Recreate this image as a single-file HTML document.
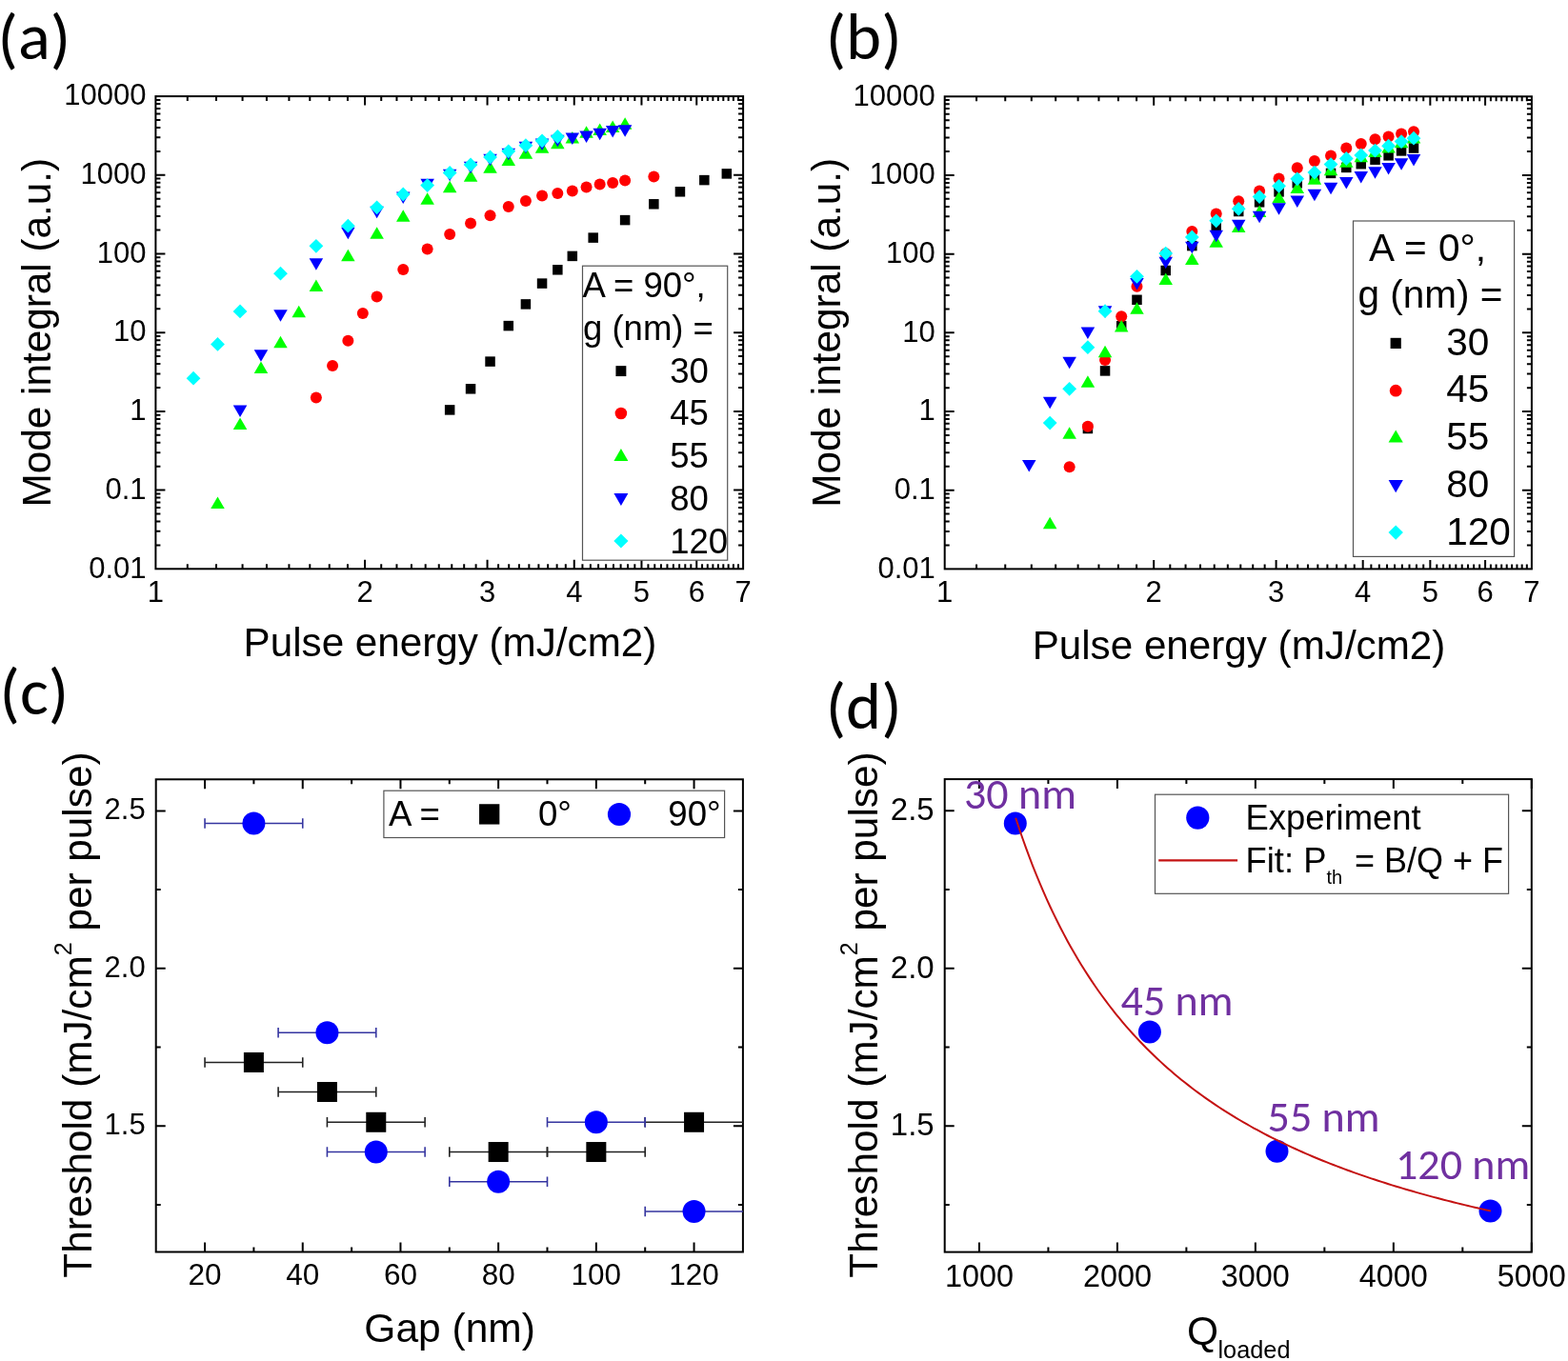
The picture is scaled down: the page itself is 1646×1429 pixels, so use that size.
<!DOCTYPE html>
<html><head><meta charset="utf-8"><title>Figure</title>
<style>html,body{margin:0;padding:0;background:#fff;}svg{display:block;}</style>
</head><body>
<svg width="1646" height="1429" viewBox="0 0 1646 1429">
<rect width="1646" height="1429" fill="#fff"/>
<text x="-2.4" y="64.1" font-family='Carlito, Calibri, "Liberation Sans", sans-serif' font-size="70.6" text-anchor="start" fill="#000">(<tspan dy="-2">a</tspan><tspan dy="2">)</tspan></text>
<text x="866.7" y="64.1" font-family='Carlito, Calibri, "Liberation Sans", sans-serif' font-size="70.6" text-anchor="start" fill="#000">(<tspan dy="-2">b</tspan><tspan dy="2">)</tspan></text>
<text x="-0.5" y="751.1" font-family='Carlito, Calibri, "Liberation Sans", sans-serif' font-size="70.6" text-anchor="start" fill="#000">(<tspan dy="-1">c</tspan><tspan dy="1">)</tspan></text>
<text x="866.7" y="766.3" font-family='Carlito, Calibri, "Liberation Sans", sans-serif' font-size="70.6" text-anchor="start" fill="#000">(<tspan dy="-1">d</tspan><tspan dy="1">)</tspan></text>
<rect x="163.4" y="101.1" width="616.7" height="496.2" fill="none" stroke="#000" stroke-width="2.0"/>
<path d="M383.07 597.3v-9.5M383.07 101.1v9.5M511.57 597.3v-9.5M511.57 101.1v9.5M602.75 597.3v-9.5M602.75 101.1v9.5M673.46 597.3v-9.5M673.46 101.1v9.5M731.25 597.3v-9.5M731.25 101.1v9.5" stroke="#000" stroke-width="2.0" fill="none"/>
<path d="M196.79 597.3v-5M196.79 101.1v5M227 597.3v-5M227 101.1v5M254.57 597.3v-5M254.57 101.1v5M279.94 597.3v-5M279.94 101.1v5M303.43 597.3v-5M303.43 101.1v5M325.29 597.3v-5M325.29 101.1v5M345.75 597.3v-5M345.75 101.1v5M364.96 597.3v-5M364.96 101.1v5M400.21 597.3v-5M400.21 101.1v5M416.46 597.3v-5M416.46 101.1v5M431.93 597.3v-5M431.93 101.1v5M446.67 597.3v-5M446.67 101.1v5M460.76 597.3v-5M460.76 101.1v5M474.25 597.3v-5M474.25 101.1v5M487.18 597.3v-5M487.18 101.1v5M499.61 597.3v-5M499.61 101.1v5M523.1 597.3v-5M523.1 101.1v5M534.22 597.3v-5M534.22 101.1v5M544.96 597.3v-5M544.96 101.1v5M555.36 597.3v-5M555.36 101.1v5M565.42 597.3v-5M565.42 101.1v5M575.17 597.3v-5M575.17 101.1v5M584.63 597.3v-5M584.63 101.1v5M593.82 597.3v-5M593.82 101.1v5M611.43 597.3v-5M611.43 101.1v5M619.88 597.3v-5M619.88 101.1v5M628.11 597.3v-5M628.11 101.1v5M636.14 597.3v-5M636.14 101.1v5M643.96 597.3v-5M643.96 101.1v5M651.6 597.3v-5M651.6 101.1v5M659.06 597.3v-5M659.06 101.1v5M666.34 597.3v-5M666.34 101.1v5M680.43 597.3v-5M680.43 101.1v5M687.25 597.3v-5M687.25 101.1v5M693.92 597.3v-5M693.92 101.1v5M700.45 597.3v-5M700.45 101.1v5M706.86 597.3v-5M706.86 101.1v5M713.13 597.3v-5M713.13 101.1v5M719.29 597.3v-5M719.29 101.1v5M725.32 597.3v-5M725.32 101.1v5M737.06 597.3v-5M737.06 101.1v5M742.77 597.3v-5M742.77 101.1v5M748.38 597.3v-5M748.38 101.1v5M753.89 597.3v-5M753.89 101.1v5M759.31 597.3v-5M759.31 101.1v5M764.64 597.3v-5M764.64 101.1v5M769.88 597.3v-5M769.88 101.1v5M775.03 597.3v-5M775.03 101.1v5" stroke="#000" stroke-width="2.0" fill="none"/>
<path d="M163.4 514.6h10M780.1 514.6h-10M163.4 431.9h10M780.1 431.9h-10M163.4 349.2h10M780.1 349.2h-10M163.4 266.5h10M780.1 266.5h-10M163.4 183.8h10M780.1 183.8h-10" stroke="#000" stroke-width="2.0" fill="none"/>
<path d="M163.4 572.4h5M780.1 572.4h-5M163.4 557.84h5M780.1 557.84h-5M163.4 547.51h5M780.1 547.51h-5M163.4 539.5h5M780.1 539.5h-5M163.4 532.95h5M780.1 532.95h-5M163.4 527.41h5M780.1 527.41h-5M163.4 522.61h5M780.1 522.61h-5M163.4 518.38h5M780.1 518.38h-5M163.4 489.7h5M780.1 489.7h-5M163.4 475.14h5M780.1 475.14h-5M163.4 464.81h5M780.1 464.81h-5M163.4 456.8h5M780.1 456.8h-5M163.4 450.25h5M780.1 450.25h-5M163.4 444.71h5M780.1 444.71h-5M163.4 439.91h5M780.1 439.91h-5M163.4 435.68h5M780.1 435.68h-5M163.4 407h5M780.1 407h-5M163.4 392.44h5M780.1 392.44h-5M163.4 382.11h5M780.1 382.11h-5M163.4 374.1h5M780.1 374.1h-5M163.4 367.55h5M780.1 367.55h-5M163.4 362.01h5M780.1 362.01h-5M163.4 357.21h5M780.1 357.21h-5M163.4 352.98h5M780.1 352.98h-5M163.4 324.3h5M780.1 324.3h-5M163.4 309.74h5M780.1 309.74h-5M163.4 299.41h5M780.1 299.41h-5M163.4 291.4h5M780.1 291.4h-5M163.4 284.85h5M780.1 284.85h-5M163.4 279.31h5M780.1 279.31h-5M163.4 274.51h5M780.1 274.51h-5M163.4 270.28h5M780.1 270.28h-5M163.4 241.6h5M780.1 241.6h-5M163.4 227.04h5M780.1 227.04h-5M163.4 216.71h5M780.1 216.71h-5M163.4 208.7h5M780.1 208.7h-5M163.4 202.15h5M780.1 202.15h-5M163.4 196.61h5M780.1 196.61h-5M163.4 191.81h5M780.1 191.81h-5M163.4 187.58h5M780.1 187.58h-5M163.4 158.9h5M780.1 158.9h-5M163.4 144.34h5M780.1 144.34h-5M163.4 134.01h5M780.1 134.01h-5M163.4 126h5M780.1 126h-5M163.4 119.45h5M780.1 119.45h-5M163.4 113.91h5M780.1 113.91h-5M163.4 109.11h5M780.1 109.11h-5M163.4 104.88h5M780.1 104.88h-5" stroke="#000" stroke-width="2.0" fill="none"/>
<text x="153.5" y="606.5" font-family='"Liberation Sans", Arial, sans-serif' font-size="31" text-anchor="end" fill="#000">0.01</text>
<text x="153.5" y="523.8" font-family='"Liberation Sans", Arial, sans-serif' font-size="31" text-anchor="end" fill="#000">0.1</text>
<text x="153.5" y="441.1" font-family='"Liberation Sans", Arial, sans-serif' font-size="31" text-anchor="end" fill="#000">1</text>
<text x="153.5" y="358.4" font-family='"Liberation Sans", Arial, sans-serif' font-size="31" text-anchor="end" fill="#000">10</text>
<text x="153.5" y="275.7" font-family='"Liberation Sans", Arial, sans-serif' font-size="31" text-anchor="end" fill="#000">100</text>
<text x="153.5" y="193" font-family='"Liberation Sans", Arial, sans-serif' font-size="31" text-anchor="end" fill="#000">1000</text>
<text x="153.5" y="110.3" font-family='"Liberation Sans", Arial, sans-serif' font-size="31" text-anchor="end" fill="#000">10000</text>
<text x="163.4" y="631.9" font-family='"Liberation Sans", Arial, sans-serif' font-size="31" text-anchor="middle" fill="#000">1</text>
<text x="383.07" y="631.9" font-family='"Liberation Sans", Arial, sans-serif' font-size="31" text-anchor="middle" fill="#000">2</text>
<text x="511.57" y="631.9" font-family='"Liberation Sans", Arial, sans-serif' font-size="31" text-anchor="middle" fill="#000">3</text>
<text x="602.75" y="631.9" font-family='"Liberation Sans", Arial, sans-serif' font-size="31" text-anchor="middle" fill="#000">4</text>
<text x="673.46" y="631.9" font-family='"Liberation Sans", Arial, sans-serif' font-size="31" text-anchor="middle" fill="#000">5</text>
<text x="731.25" y="631.9" font-family='"Liberation Sans", Arial, sans-serif' font-size="31" text-anchor="middle" fill="#000">6</text>
<text x="780.1" y="631.9" font-family='"Liberation Sans", Arial, sans-serif' font-size="31" text-anchor="middle" fill="#000">7</text>
<text x="472.45" y="689" font-family='"Liberation Sans", Arial, sans-serif' font-size="42.2" text-anchor="middle" fill="#000">Pulse energy (mJ/cm2)</text>
<text transform="translate(53.3 349.2) rotate(-90)" font-family='"Liberation Sans", Arial, sans-serif' font-size="42.3" text-anchor="middle">Mode integral (a.u.)</text>
<rect x="466.91" y="425.15" width="10.5" height="10.5" fill="#000"/><rect x="488.81" y="403.05" width="10.5" height="10.5" fill="#000"/><rect x="509.29" y="374.35" width="10.5" height="10.5" fill="#000"/><rect x="528.53" y="336.85" width="10.5" height="10.5" fill="#000"/><rect x="546.66" y="314.15" width="10.5" height="10.5" fill="#000"/><rect x="563.81" y="292.35" width="10.5" height="10.5" fill="#000"/><rect x="580.09" y="278.05" width="10.5" height="10.5" fill="#000"/><rect x="595.56" y="263.65" width="10.5" height="10.5" fill="#000"/><rect x="617.45" y="244.35" width="10.5" height="10.5" fill="#000"/><rect x="650.87" y="225.85" width="10.5" height="10.5" fill="#000"/><rect x="681.1" y="209.05" width="10.5" height="10.5" fill="#000"/><rect x="708.69" y="196.05" width="10.5" height="10.5" fill="#000"/><rect x="734.08" y="183.85" width="10.5" height="10.5" fill="#000"/><rect x="757.58" y="177.15" width="10.5" height="10.5" fill="#000"/><circle cx="331.88" cy="417.5" r="6" fill="#f00"/><circle cx="349.06" cy="384" r="6" fill="#f00"/><circle cx="365.35" cy="357.8" r="6" fill="#f00"/><circle cx="380.84" cy="329" r="6" fill="#f00"/><circle cx="395.61" cy="311.5" r="6" fill="#f00"/><circle cx="423.23" cy="282.9" r="6" fill="#f00"/><circle cx="448.64" cy="261.6" r="6" fill="#f00"/><circle cx="472.16" cy="246" r="6" fill="#f00"/><circle cx="494.06" cy="234.4" r="6" fill="#f00"/><circle cx="514.54" cy="226.2" r="6" fill="#f00"/><circle cx="533.78" cy="216.9" r="6" fill="#f00"/><circle cx="551.91" cy="211.1" r="6" fill="#f00"/><circle cx="569.06" cy="205.6" r="6" fill="#f00"/><circle cx="585.34" cy="203" r="6" fill="#f00"/><circle cx="600.81" cy="200.4" r="6" fill="#f00"/><circle cx="615.57" cy="196.4" r="6" fill="#f00"/><circle cx="629.67" cy="193.6" r="6" fill="#f00"/><circle cx="643.17" cy="191.9" r="6" fill="#f00"/><circle cx="656.12" cy="189.4" r="6" fill="#f00"/><circle cx="686.35" cy="185.6" r="6" fill="#f00"/><path d="M221.23 534.05L235.73 534.05L228.48 521.55Z" fill="#0f0"/><path d="M244.78 450.95L259.28 450.95L252.03 438.45Z" fill="#0f0"/><path d="M266.71 391.95L281.21 391.95L273.96 379.45Z" fill="#0f0"/><path d="M287.22 365.15L301.72 365.15L294.47 352.65Z" fill="#0f0"/><path d="M306.48 333.15L320.98 333.15L313.73 320.65Z" fill="#0f0"/><path d="M324.63 305.95L339.13 305.95L331.88 293.45Z" fill="#0f0"/><path d="M358.1 274.35L372.6 274.35L365.35 261.85Z" fill="#0f0"/><path d="M388.36 250.75L402.86 250.75L395.61 238.25Z" fill="#0f0"/><path d="M415.98 232.65L430.48 232.65L423.23 220.15Z" fill="#0f0"/><path d="M441.39 214.85L455.89 214.85L448.64 202.35Z" fill="#0f0"/><path d="M464.91 202.25L479.41 202.25L472.16 189.75Z" fill="#0f0"/><path d="M486.81 190.85L501.31 190.85L494.06 178.35Z" fill="#0f0"/><path d="M507.29 181.75L521.79 181.75L514.54 169.25Z" fill="#0f0"/><path d="M526.53 174.05L541.03 174.05L533.78 161.55Z" fill="#0f0"/><path d="M544.66 166.85L559.16 166.85L551.91 154.35Z" fill="#0f0"/><path d="M561.81 160.85L576.31 160.85L569.06 148.35Z" fill="#0f0"/><path d="M578.09 156.35L592.59 156.35L585.34 143.85Z" fill="#0f0"/><path d="M593.56 150.45L608.06 150.45L600.81 137.95Z" fill="#0f0"/><path d="M608.32 144.85L622.82 144.85L615.57 132.35Z" fill="#0f0"/><path d="M622.42 142.05L636.92 142.05L629.67 129.55Z" fill="#0f0"/><path d="M635.92 138.95L650.42 138.95L643.17 126.45Z" fill="#0f0"/><path d="M648.87 135.75L663.37 135.75L656.12 123.25Z" fill="#0f0"/><path d="M244.78 425.55L259.28 425.55L252.03 438.05Z" fill="#00f"/><path d="M266.71 367.25L281.21 367.25L273.96 379.75Z" fill="#00f"/><path d="M287.22 325.25L301.72 325.25L294.47 337.75Z" fill="#00f"/><path d="M324.63 271.35L339.13 271.35L331.88 283.85Z" fill="#00f"/><path d="M358.1 238.65L372.6 238.65L365.35 251.15Z" fill="#00f"/><path d="M388.36 216.85L402.86 216.85L395.61 229.35Z" fill="#00f"/><path d="M415.98 201.45L430.48 201.45L423.23 213.95Z" fill="#00f"/><path d="M441.39 187.85L455.89 187.85L448.64 200.35Z" fill="#00f"/><path d="M464.91 177.65L479.41 177.65L472.16 190.15Z" fill="#00f"/><path d="M486.81 169.65L501.31 169.65L494.06 182.15Z" fill="#00f"/><path d="M507.29 161.65L521.79 161.65L514.54 174.15Z" fill="#00f"/><path d="M526.53 155.85L541.03 155.85L533.78 168.35Z" fill="#00f"/><path d="M544.66 148.65L559.16 148.65L551.91 161.15Z" fill="#00f"/><path d="M561.81 145.45L576.31 145.45L569.06 157.95Z" fill="#00f"/><path d="M578.09 141.85L592.59 141.85L585.34 154.35Z" fill="#00f"/><path d="M593.56 139.55L608.06 139.55L600.81 152.05Z" fill="#00f"/><path d="M608.32 137.45L622.82 137.45L615.57 149.95Z" fill="#00f"/><path d="M622.42 134.85L636.92 134.85L629.67 147.35Z" fill="#00f"/><path d="M635.92 132.05L650.42 132.05L643.17 144.55Z" fill="#00f"/><path d="M648.87 131.35L663.37 131.35L656.12 143.85Z" fill="#00f"/><path d="M203.03 389.8L210.43 397.2L203.03 404.6L195.63 397.2Z" fill="#0ff"/><path d="M228.48 354L235.88 361.4L228.48 368.8L221.08 361.4Z" fill="#0ff"/><path d="M252.03 319.5L259.43 326.9L252.03 334.3L244.63 326.9Z" fill="#0ff"/><path d="M294.47 279.8L301.87 287.2L294.47 294.6L287.07 287.2Z" fill="#0ff"/><path d="M331.88 250.9L339.28 258.3L331.88 265.7L324.48 258.3Z" fill="#0ff"/><path d="M365.35 229.8L372.75 237.2L365.35 244.6L357.95 237.2Z" fill="#0ff"/><path d="M395.61 210.4L403.01 217.8L395.61 225.2L388.21 217.8Z" fill="#0ff"/><path d="M423.23 196.6L430.63 204L423.23 211.4L415.83 204Z" fill="#0ff"/><path d="M448.64 187.2L456.04 194.6L448.64 202L441.24 194.6Z" fill="#0ff"/><path d="M472.16 174L479.56 181.4L472.16 188.8L464.76 181.4Z" fill="#0ff"/><path d="M494.06 165.6L501.46 173L494.06 180.4L486.66 173Z" fill="#0ff"/><path d="M514.54 157.6L521.94 165L514.54 172.4L507.14 165Z" fill="#0ff"/><path d="M533.78 151.4L541.18 158.8L533.78 166.2L526.38 158.8Z" fill="#0ff"/><path d="M551.91 145.3L559.31 152.7L551.91 160.1L544.51 152.7Z" fill="#0ff"/><path d="M569.06 140.4L576.46 147.8L569.06 155.2L561.66 147.8Z" fill="#0ff"/><path d="M585.34 136.1L592.74 143.5L585.34 150.9L577.94 143.5Z" fill="#0ff"/>
<rect x="611.5" y="279.2" width="152.2" height="309" fill="#fff" stroke="#555" stroke-width="1.2"/>
<text x="611.5" y="312.3" font-family='"Liberation Sans", Arial, sans-serif' font-size="36.5" text-anchor="start" fill="#000">A = 90°,</text>
<text x="612" y="357" font-family='"Liberation Sans", Arial, sans-serif' font-size="36.5" text-anchor="start" fill="#000">g (nm) =</text>
<text x="703.2" y="401.7" font-family='"Liberation Sans", Arial, sans-serif' font-size="36.5" text-anchor="start" fill="#000">30</text>
<text x="703.2" y="446.4" font-family='"Liberation Sans", Arial, sans-serif' font-size="36.5" text-anchor="start" fill="#000">45</text>
<text x="703.2" y="491.1" font-family='"Liberation Sans", Arial, sans-serif' font-size="36.5" text-anchor="start" fill="#000">55</text>
<text x="703.2" y="535.8" font-family='"Liberation Sans", Arial, sans-serif' font-size="36.5" text-anchor="start" fill="#000">80</text>
<text x="703.2" y="580.5" font-family='"Liberation Sans", Arial, sans-serif' font-size="36.5" text-anchor="start" fill="#000">120</text>
<rect x="646.45" y="384.15" width="10.9" height="10.9" fill="#000"/><circle cx="651.9" cy="434" r="6.3" fill="#f00"/><path d="M644.4 483.9L659.4 483.9L651.9 470.9Z" fill="#0f0"/><path d="M644.4 518L659.4 518L651.9 531Z" fill="#00f"/><path d="M651.9 560.4L659.5 568L651.9 575.6L644.3 568Z" fill="#0ff"/>
<rect x="991.7" y="101.3" width="616.2" height="496.1" fill="none" stroke="#000" stroke-width="2.0"/>
<path d="M1211.19 597.4v-9.5M1211.19 101.3v9.5M1339.59 597.4v-9.5M1339.59 101.3v9.5M1430.69 597.4v-9.5M1430.69 101.3v9.5M1501.35 597.4v-9.5M1501.35 101.3v9.5M1559.09 597.4v-9.5M1559.09 101.3v9.5" stroke="#000" stroke-width="2.0" fill="none"/>
<path d="M1025.06 597.4v-5M1025.06 101.3v5M1055.25 597.4v-5M1055.25 101.3v5M1082.8 597.4v-5M1082.8 101.3v5M1108.15 597.4v-5M1108.15 101.3v5M1131.61 597.4v-5M1131.61 101.3v5M1153.46 597.4v-5M1153.46 101.3v5M1173.9 597.4v-5M1173.9 101.3v5M1193.09 597.4v-5M1193.09 101.3v5M1228.32 597.4v-5M1228.32 101.3v5M1244.56 597.4v-5M1244.56 101.3v5M1260.01 597.4v-5M1260.01 101.3v5M1274.74 597.4v-5M1274.74 101.3v5M1288.82 597.4v-5M1288.82 101.3v5M1302.29 597.4v-5M1302.29 101.3v5M1315.22 597.4v-5M1315.22 101.3v5M1327.64 597.4v-5M1327.64 101.3v5M1351.11 597.4v-5M1351.11 101.3v5M1362.22 597.4v-5M1362.22 101.3v5M1372.96 597.4v-5M1372.96 101.3v5M1383.34 597.4v-5M1383.34 101.3v5M1393.39 597.4v-5M1393.39 101.3v5M1403.14 597.4v-5M1403.14 101.3v5M1412.59 597.4v-5M1412.59 101.3v5M1421.77 597.4v-5M1421.77 101.3v5M1439.37 597.4v-5M1439.37 101.3v5M1447.81 597.4v-5M1447.81 101.3v5M1456.04 597.4v-5M1456.04 101.3v5M1464.05 597.4v-5M1464.05 101.3v5M1471.87 597.4v-5M1471.87 101.3v5M1479.5 597.4v-5M1479.5 101.3v5M1486.95 597.4v-5M1486.95 101.3v5M1494.23 597.4v-5M1494.23 101.3v5M1508.31 597.4v-5M1508.31 101.3v5M1515.12 597.4v-5M1515.12 101.3v5M1521.79 597.4v-5M1521.79 101.3v5M1528.32 597.4v-5M1528.32 101.3v5M1534.72 597.4v-5M1534.72 101.3v5M1540.99 597.4v-5M1540.99 101.3v5M1547.13 597.4v-5M1547.13 101.3v5M1553.17 597.4v-5M1553.17 101.3v5M1564.9 597.4v-5M1564.9 101.3v5M1570.6 597.4v-5M1570.6 101.3v5M1576.21 597.4v-5M1576.21 101.3v5M1581.71 597.4v-5M1581.71 101.3v5M1587.13 597.4v-5M1587.13 101.3v5M1592.45 597.4v-5M1592.45 101.3v5M1597.68 597.4v-5M1597.68 101.3v5M1602.83 597.4v-5M1602.83 101.3v5" stroke="#000" stroke-width="2.0" fill="none"/>
<path d="M991.7 514.72h10M1607.9 514.72h-10M991.7 432.03h10M1607.9 432.03h-10M991.7 349.35h10M1607.9 349.35h-10M991.7 266.67h10M1607.9 266.67h-10M991.7 183.98h10M1607.9 183.98h-10" stroke="#000" stroke-width="2.0" fill="none"/>
<path d="M991.7 572.51h5M1607.9 572.51h-5M991.7 557.95h5M1607.9 557.95h-5M991.7 547.62h5M1607.9 547.62h-5M991.7 539.61h5M1607.9 539.61h-5M991.7 533.06h5M1607.9 533.06h-5M991.7 527.52h5M1607.9 527.52h-5M991.7 522.73h5M1607.9 522.73h-5M991.7 518.5h5M1607.9 518.5h-5M991.7 489.83h5M1607.9 489.83h-5M991.7 475.27h5M1607.9 475.27h-5M991.7 464.94h5M1607.9 464.94h-5M991.7 456.92h5M1607.9 456.92h-5M991.7 450.38h5M1607.9 450.38h-5M991.7 444.84h5M1607.9 444.84h-5M991.7 440.05h5M1607.9 440.05h-5M991.7 435.82h5M1607.9 435.82h-5M991.7 407.14h5M1607.9 407.14h-5M991.7 392.58h5M1607.9 392.58h-5M991.7 382.25h5M1607.9 382.25h-5M991.7 374.24h5M1607.9 374.24h-5M991.7 367.69h5M1607.9 367.69h-5M991.7 362.16h5M1607.9 362.16h-5M991.7 357.36h5M1607.9 357.36h-5M991.7 353.13h5M1607.9 353.13h-5M991.7 324.46h5M1607.9 324.46h-5M991.7 309.9h5M1607.9 309.9h-5M991.7 299.57h5M1607.9 299.57h-5M991.7 291.56h5M1607.9 291.56h-5M991.7 285.01h5M1607.9 285.01h-5M991.7 279.47h5M1607.9 279.47h-5M991.7 274.68h5M1607.9 274.68h-5M991.7 270.45h5M1607.9 270.45h-5M991.7 241.78h5M1607.9 241.78h-5M991.7 227.22h5M1607.9 227.22h-5M991.7 216.89h5M1607.9 216.89h-5M991.7 208.87h5M1607.9 208.87h-5M991.7 202.33h5M1607.9 202.33h-5M991.7 196.79h5M1607.9 196.79h-5M991.7 192h5M1607.9 192h-5M991.7 187.77h5M1607.9 187.77h-5M991.7 159.09h5M1607.9 159.09h-5M991.7 144.53h5M1607.9 144.53h-5M991.7 134.2h5M1607.9 134.2h-5M991.7 126.19h5M1607.9 126.19h-5M991.7 119.64h5M1607.9 119.64h-5M991.7 114.11h5M1607.9 114.11h-5M991.7 109.31h5M1607.9 109.31h-5M991.7 105.08h5M1607.9 105.08h-5" stroke="#000" stroke-width="2.0" fill="none"/>
<text x="981.8" y="606.6" font-family='"Liberation Sans", Arial, sans-serif' font-size="31" text-anchor="end" fill="#000">0.01</text>
<text x="981.8" y="523.92" font-family='"Liberation Sans", Arial, sans-serif' font-size="31" text-anchor="end" fill="#000">0.1</text>
<text x="981.8" y="441.23" font-family='"Liberation Sans", Arial, sans-serif' font-size="31" text-anchor="end" fill="#000">1</text>
<text x="981.8" y="358.55" font-family='"Liberation Sans", Arial, sans-serif' font-size="31" text-anchor="end" fill="#000">10</text>
<text x="981.8" y="275.87" font-family='"Liberation Sans", Arial, sans-serif' font-size="31" text-anchor="end" fill="#000">100</text>
<text x="981.8" y="193.18" font-family='"Liberation Sans", Arial, sans-serif' font-size="31" text-anchor="end" fill="#000">1000</text>
<text x="981.8" y="110.5" font-family='"Liberation Sans", Arial, sans-serif' font-size="31" text-anchor="end" fill="#000">10000</text>
<text x="991.7" y="632" font-family='"Liberation Sans", Arial, sans-serif' font-size="31" text-anchor="middle" fill="#000">1</text>
<text x="1211.19" y="632" font-family='"Liberation Sans", Arial, sans-serif' font-size="31" text-anchor="middle" fill="#000">2</text>
<text x="1339.59" y="632" font-family='"Liberation Sans", Arial, sans-serif' font-size="31" text-anchor="middle" fill="#000">3</text>
<text x="1430.69" y="632" font-family='"Liberation Sans", Arial, sans-serif' font-size="31" text-anchor="middle" fill="#000">4</text>
<text x="1501.35" y="632" font-family='"Liberation Sans", Arial, sans-serif' font-size="31" text-anchor="middle" fill="#000">5</text>
<text x="1559.09" y="632" font-family='"Liberation Sans", Arial, sans-serif' font-size="31" text-anchor="middle" fill="#000">6</text>
<text x="1607.9" y="632" font-family='"Liberation Sans", Arial, sans-serif' font-size="31" text-anchor="middle" fill="#000">7</text>
<text x="1300.5" y="691.9" font-family='"Liberation Sans", Arial, sans-serif' font-size="42.2" text-anchor="middle" fill="#000">Pulse energy (mJ/cm2)</text>
<text transform="translate(881.6 349.35) rotate(-90)" font-family='"Liberation Sans", Arial, sans-serif' font-size="42.3" text-anchor="middle">Mode integral (a.u.)</text>
<rect x="1136.66" y="444.75" width="10.5" height="10.5" fill="#000"/><rect x="1154.8" y="384.15" width="10.5" height="10.5" fill="#000"/><rect x="1171.96" y="337.05" width="10.5" height="10.5" fill="#000"/><rect x="1188.23" y="309.55" width="10.5" height="10.5" fill="#000"/><rect x="1218.47" y="278.75" width="10.5" height="10.5" fill="#000"/><rect x="1246.07" y="252.85" width="10.5" height="10.5" fill="#000"/><rect x="1271.46" y="231.85" width="10.5" height="10.5" fill="#000"/><rect x="1294.96" y="216.75" width="10.5" height="10.5" fill="#000"/><rect x="1316.84" y="207.05" width="10.5" height="10.5" fill="#000"/><rect x="1337.3" y="196.15" width="10.5" height="10.5" fill="#000"/><rect x="1356.52" y="187.05" width="10.5" height="10.5" fill="#000"/><rect x="1374.65" y="181.75" width="10.5" height="10.5" fill="#000"/><rect x="1391.79" y="176.65" width="10.5" height="10.5" fill="#000"/><rect x="1408.04" y="170.65" width="10.5" height="10.5" fill="#000"/><rect x="1423.51" y="166.95" width="10.5" height="10.5" fill="#000"/><rect x="1438.26" y="162.45" width="10.5" height="10.5" fill="#000"/><rect x="1452.34" y="158.05" width="10.5" height="10.5" fill="#000"/><rect x="1465.83" y="153.15" width="10.5" height="10.5" fill="#000"/><rect x="1478.77" y="150.25" width="10.5" height="10.5" fill="#000"/><circle cx="1122.66" cy="490.2" r="6" fill="#f00"/><circle cx="1141.91" cy="447.8" r="6" fill="#f00"/><circle cx="1160.05" cy="377.9" r="6" fill="#f00"/><circle cx="1177.21" cy="332.3" r="6" fill="#f00"/><circle cx="1193.48" cy="300.8" r="6" fill="#f00"/><circle cx="1223.72" cy="266.2" r="6" fill="#f00"/><circle cx="1251.32" cy="243.1" r="6" fill="#f00"/><circle cx="1276.71" cy="224.6" r="6" fill="#f00"/><circle cx="1300.21" cy="211.2" r="6" fill="#f00"/><circle cx="1322.09" cy="200.5" r="6" fill="#f00"/><circle cx="1342.55" cy="187.5" r="6" fill="#f00"/><circle cx="1361.77" cy="176.2" r="6" fill="#f00"/><circle cx="1379.9" cy="168.9" r="6" fill="#f00"/><circle cx="1397.04" cy="163.5" r="6" fill="#f00"/><circle cx="1413.29" cy="155.6" r="6" fill="#f00"/><circle cx="1428.76" cy="151.1" r="6" fill="#f00"/><circle cx="1443.51" cy="146.3" r="6" fill="#f00"/><circle cx="1457.59" cy="143.4" r="6" fill="#f00"/><circle cx="1471.08" cy="140.5" r="6" fill="#f00"/><circle cx="1484.02" cy="138.2" r="6" fill="#f00"/><path d="M1094.92 555.15L1109.42 555.15L1102.17 542.65Z" fill="#0f0"/><path d="M1115.41 460.85L1129.91 460.85L1122.66 448.35Z" fill="#0f0"/><path d="M1134.66 406.85L1149.16 406.85L1141.91 394.35Z" fill="#0f0"/><path d="M1152.8 375.15L1167.3 375.15L1160.05 362.65Z" fill="#0f0"/><path d="M1169.96 348.55L1184.46 348.55L1177.21 336.05Z" fill="#0f0"/><path d="M1186.23 329.65L1200.73 329.65L1193.48 317.15Z" fill="#0f0"/><path d="M1216.47 298.95L1230.97 298.95L1223.72 286.45Z" fill="#0f0"/><path d="M1244.07 277.95L1258.57 277.95L1251.32 265.45Z" fill="#0f0"/><path d="M1269.46 259.75L1283.96 259.75L1276.71 247.25Z" fill="#0f0"/><path d="M1292.96 244.05L1307.46 244.05L1300.21 231.55Z" fill="#0f0"/><path d="M1314.84 227.95L1329.34 227.95L1322.09 215.45Z" fill="#0f0"/><path d="M1335.3 213.35L1349.8 213.35L1342.55 200.85Z" fill="#0f0"/><path d="M1354.52 203.05L1369.02 203.05L1361.77 190.55Z" fill="#0f0"/><path d="M1372.65 193.85L1387.15 193.85L1379.9 181.35Z" fill="#0f0"/><path d="M1389.79 184.15L1404.29 184.15L1397.04 171.65Z" fill="#0f0"/><path d="M1406.04 175.65L1420.54 175.65L1413.29 163.15Z" fill="#0f0"/><path d="M1421.51 170.25L1436.01 170.25L1428.76 157.75Z" fill="#0f0"/><path d="M1436.26 165.05L1450.76 165.05L1443.51 152.55Z" fill="#0f0"/><path d="M1450.34 160.45L1464.84 160.45L1457.59 147.95Z" fill="#0f0"/><path d="M1463.83 155.35L1478.33 155.35L1471.08 142.85Z" fill="#0f0"/><path d="M1476.77 150.45L1491.27 150.45L1484.02 137.95Z" fill="#0f0"/><path d="M1073.01 483.05L1087.51 483.05L1080.26 495.55Z" fill="#00f"/><path d="M1094.92 416.75L1109.42 416.75L1102.17 429.25Z" fill="#00f"/><path d="M1115.41 374.75L1129.91 374.75L1122.66 387.25Z" fill="#00f"/><path d="M1134.66 343.55L1149.16 343.55L1141.91 356.05Z" fill="#00f"/><path d="M1152.8 321.35L1167.3 321.35L1160.05 333.85Z" fill="#00f"/><path d="M1186.23 292.05L1200.73 292.05L1193.48 304.55Z" fill="#00f"/><path d="M1216.47 269.65L1230.97 269.65L1223.72 282.15Z" fill="#00f"/><path d="M1244.07 253.65L1258.57 253.65L1251.32 266.15Z" fill="#00f"/><path d="M1269.46 241.65L1283.96 241.65L1276.71 254.15Z" fill="#00f"/><path d="M1292.96 230.75L1307.46 230.75L1300.21 243.25Z" fill="#00f"/><path d="M1314.84 221.85L1329.34 221.85L1322.09 234.35Z" fill="#00f"/><path d="M1335.3 213.35L1349.8 213.35L1342.55 225.85Z" fill="#00f"/><path d="M1354.52 205.45L1369.02 205.45L1361.77 217.95Z" fill="#00f"/><path d="M1372.65 198.75L1387.15 198.75L1379.9 211.25Z" fill="#00f"/><path d="M1389.79 191.75L1404.29 191.75L1397.04 204.25Z" fill="#00f"/><path d="M1406.04 186.05L1420.54 186.05L1413.29 198.55Z" fill="#00f"/><path d="M1421.51 179.95L1436.01 179.95L1428.76 192.45Z" fill="#00f"/><path d="M1436.26 175.15L1450.76 175.15L1443.51 187.65Z" fill="#00f"/><path d="M1450.34 171.05L1464.84 171.05L1457.59 183.55Z" fill="#00f"/><path d="M1463.83 166.15L1478.33 166.15L1471.08 178.65Z" fill="#00f"/><path d="M1476.77 162.05L1491.27 162.05L1484.02 174.55Z" fill="#00f"/><path d="M1102.17 436.7L1109.57 444.1L1102.17 451.5L1094.77 444.1Z" fill="#0ff"/><path d="M1122.66 400.9L1130.06 408.3L1122.66 415.7L1115.26 408.3Z" fill="#0ff"/><path d="M1141.91 357.3L1149.31 364.7L1141.91 372.1L1134.51 364.7Z" fill="#0ff"/><path d="M1160.05 319.3L1167.45 326.7L1160.05 334.1L1152.65 326.7Z" fill="#0ff"/><path d="M1193.48 282.9L1200.88 290.3L1193.48 297.7L1186.08 290.3Z" fill="#0ff"/><path d="M1223.72 258.7L1231.12 266.1L1223.72 273.5L1216.32 266.1Z" fill="#0ff"/><path d="M1251.32 241.6L1258.72 249L1251.32 256.4L1243.92 249Z" fill="#0ff"/><path d="M1276.71 224.4L1284.11 231.8L1276.71 239.2L1269.31 231.8Z" fill="#0ff"/><path d="M1300.21 211.9L1307.61 219.3L1300.21 226.7L1292.81 219.3Z" fill="#0ff"/><path d="M1322.09 199.2L1329.49 206.6L1322.09 214L1314.69 206.6Z" fill="#0ff"/><path d="M1342.55 187.9L1349.95 195.3L1342.55 202.7L1335.15 195.3Z" fill="#0ff"/><path d="M1361.77 180.4L1369.17 187.8L1361.77 195.2L1354.37 187.8Z" fill="#0ff"/><path d="M1379.9 173.7L1387.3 181.1L1379.9 188.5L1372.5 181.1Z" fill="#0ff"/><path d="M1397.04 165.2L1404.44 172.6L1397.04 180L1389.64 172.6Z" fill="#0ff"/><path d="M1413.29 159.1L1420.69 166.5L1413.29 173.9L1405.89 166.5Z" fill="#0ff"/><path d="M1428.76 155.5L1436.16 162.9L1428.76 170.3L1421.36 162.9Z" fill="#0ff"/><path d="M1443.51 150.7L1450.91 158.1L1443.51 165.5L1436.11 158.1Z" fill="#0ff"/><path d="M1457.59 145.8L1464.99 153.2L1457.59 160.6L1450.19 153.2Z" fill="#0ff"/><path d="M1471.08 141.2L1478.48 148.6L1471.08 156L1463.68 148.6Z" fill="#0ff"/><path d="M1484.02 137.8L1491.42 145.2L1484.02 152.6L1476.62 145.2Z" fill="#0ff"/>
<rect x="1420.5" y="232" width="169.1" height="352.4" fill="#fff" stroke="#555" stroke-width="1.2"/>
<text x="1437" y="273.7" font-family='"Liberation Sans", Arial, sans-serif' font-size="40.5" text-anchor="start" fill="#000" word-spacing="1">A = 0°,</text>
<text x="1425.4" y="322.8" font-family='"Liberation Sans", Arial, sans-serif' font-size="40.5" text-anchor="start" fill="#000">g (nm) =</text>
<text x="1518.3" y="372.6" font-family='"Liberation Sans", Arial, sans-serif' font-size="40.5" text-anchor="start" fill="#000">30</text>
<text x="1518.3" y="422.4" font-family='"Liberation Sans", Arial, sans-serif' font-size="40.5" text-anchor="start" fill="#000">45</text>
<text x="1518.3" y="472.2" font-family='"Liberation Sans", Arial, sans-serif' font-size="40.5" text-anchor="start" fill="#000">55</text>
<text x="1518.3" y="522" font-family='"Liberation Sans", Arial, sans-serif' font-size="40.5" text-anchor="start" fill="#000">80</text>
<text x="1518.3" y="571.8" font-family='"Liberation Sans", Arial, sans-serif' font-size="40.5" text-anchor="start" fill="#000">120</text>
<rect x="1459.6" y="354.8" width="11.2" height="11.2" fill="#000"/><circle cx="1465.2" cy="410.2" r="6.4" fill="#f00"/><path d="M1457.6 464.6L1472.8 464.6L1465.2 451.4Z" fill="#0f0"/><path d="M1457.6 504.1L1472.8 504.1L1465.2 517.3Z" fill="#00f"/><path d="M1465.2 551.4L1472.9 559.1L1465.2 566.8L1457.5 559.1Z" fill="#0ff"/>
<rect x="163.7" y="818.3" width="616.2" height="496.2" fill="none" stroke="#000" stroke-width="2.0"/>
<path d="M215.05 1314.5v-10M215.05 818.3v10M317.75 1314.5v-10M317.75 818.3v10M420.45 1314.5v-10M420.45 818.3v10M523.15 1314.5v-10M523.15 818.3v10M625.85 1314.5v-10M625.85 818.3v10M728.55 1314.5v-10M728.55 818.3v10" stroke="#000" stroke-width="2.0" fill="none"/>
<path d="M266.4 1314.5v-5M266.4 818.3v5M369.1 1314.5v-5M369.1 818.3v5M471.8 1314.5v-5M471.8 818.3v5M574.5 1314.5v-5M574.5 818.3v5M677.2 1314.5v-5M677.2 818.3v5" stroke="#000" stroke-width="2.0" fill="none"/>
<path d="M163.7 1182.18h10M779.9 1182.18h-10M163.7 1016.78h10M779.9 1016.78h-10M163.7 851.38h10M779.9 851.38h-10" stroke="#000" stroke-width="2.0" fill="none"/>
<path d="M163.7 1264.88h5M779.9 1264.88h-5M163.7 1099.48h5M779.9 1099.48h-5M163.7 934.08h5M779.9 934.08h-5" stroke="#000" stroke-width="2.0" fill="none"/>
<text x="152.7" y="1191.18" font-family='"Liberation Sans", Arial, sans-serif' font-size="31" text-anchor="end" fill="#000">1.5</text>
<text x="152.7" y="1025.78" font-family='"Liberation Sans", Arial, sans-serif' font-size="31" text-anchor="end" fill="#000">2.0</text>
<text x="152.7" y="860.38" font-family='"Liberation Sans", Arial, sans-serif' font-size="31" text-anchor="end" fill="#000">2.5</text>
<text x="215.05" y="1349.3" font-family='"Liberation Sans", Arial, sans-serif' font-size="31.5" text-anchor="middle" fill="#000">20</text>
<text x="317.75" y="1349.3" font-family='"Liberation Sans", Arial, sans-serif' font-size="31.5" text-anchor="middle" fill="#000">40</text>
<text x="420.45" y="1349.3" font-family='"Liberation Sans", Arial, sans-serif' font-size="31.5" text-anchor="middle" fill="#000">60</text>
<text x="523.15" y="1349.3" font-family='"Liberation Sans", Arial, sans-serif' font-size="31.5" text-anchor="middle" fill="#000">80</text>
<text x="625.85" y="1349.3" font-family='"Liberation Sans", Arial, sans-serif' font-size="31.5" text-anchor="middle" fill="#000">100</text>
<text x="728.55" y="1349.3" font-family='"Liberation Sans", Arial, sans-serif' font-size="31.5" text-anchor="middle" fill="#000">120</text>
<text transform="translate(95.7 1065.6) rotate(-90)" font-family='"Liberation Sans", Arial, sans-serif' font-size="42.3" text-anchor="middle">Threshold (mJ/cm<tspan font-size="25" dy="-21">2</tspan><tspan dy="21"> per pulse)</tspan></text>
<text x="472.1" y="1409.2" font-family='"Liberation Sans", Arial, sans-serif' font-size="42.5" text-anchor="middle" fill="#000">Gap (nm)</text>
<path d="M215.05 1115.46H317.75M215.05 1110.26v10.4M317.75 1110.26v10.4" stroke="#222" stroke-width="1.6" fill="none"/><rect x="255.9" y="1104.96" width="21" height="21" fill="#000"/><path d="M292.08 1146.52H394.77M292.08 1141.32v10.4M394.77 1141.32v10.4" stroke="#222" stroke-width="1.6" fill="none"/><rect x="332.92" y="1136.02" width="21" height="21" fill="#000"/><path d="M343.42 1178.28H446.12M343.42 1173.08v10.4M446.12 1173.08v10.4" stroke="#222" stroke-width="1.6" fill="none"/><rect x="384.27" y="1167.78" width="21" height="21" fill="#000"/><path d="M471.8 1209.54H574.5M471.8 1204.34v10.4M574.5 1204.34v10.4" stroke="#222" stroke-width="1.6" fill="none"/><rect x="512.65" y="1199.04" width="21" height="21" fill="#000"/><path d="M574.5 1209.54H677.2M574.5 1204.34v10.4M677.2 1204.34v10.4" stroke="#222" stroke-width="1.6" fill="none"/><rect x="615.35" y="1199.04" width="21" height="21" fill="#000"/><path d="M677.2 1178.28H779.9M677.2 1173.08v10.4" stroke="#222" stroke-width="1.6" fill="none"/><rect x="718.05" y="1167.78" width="21" height="21" fill="#000"/><path d="M215.05 864.51H317.75M215.05 859.31v10.4M317.75 859.31v10.4" stroke="#3535a0" stroke-width="1.6" fill="none"/><circle cx="266.4" cy="864.51" r="12" fill="#00f"/><path d="M292.08 1084.26H394.77M292.08 1079.06v10.4M394.77 1079.06v10.4" stroke="#3535a0" stroke-width="1.6" fill="none"/><circle cx="343.42" cy="1084.26" r="12" fill="#00f"/><path d="M343.42 1209.54H446.12M343.42 1204.34v10.4M446.12 1204.34v10.4" stroke="#3535a0" stroke-width="1.6" fill="none"/><circle cx="394.77" cy="1209.54" r="12" fill="#00f"/><path d="M471.8 1240.8H574.5M471.8 1235.6v10.4M574.5 1235.6v10.4" stroke="#3535a0" stroke-width="1.6" fill="none"/><circle cx="523.15" cy="1240.8" r="12" fill="#00f"/><path d="M574.5 1178.28H677.2M574.5 1173.08v10.4M677.2 1173.08v10.4" stroke="#3535a0" stroke-width="1.6" fill="none"/><circle cx="625.85" cy="1178.28" r="12" fill="#00f"/><path d="M677.2 1272.06H779.9M677.2 1266.86v10.4" stroke="#3535a0" stroke-width="1.6" fill="none"/><circle cx="728.55" cy="1272.06" r="12" fill="#00f"/>
<rect x="402.9" y="830.2" width="357.7" height="49.3" fill="#fff" stroke="#555" stroke-width="1.2"/>
<text x="408" y="867.4" font-family='"Liberation Sans", Arial, sans-serif' font-size="36.6" text-anchor="start" fill="#000">A =</text>
<rect x="503.05" y="844.25" width="21.3" height="21.3" fill="#000"/>
<text x="565" y="867.4" font-family='"Liberation Sans", Arial, sans-serif' font-size="36.6" text-anchor="start" fill="#000">0°</text>
<circle cx="650" cy="855" r="12.1" fill="#00f"/>
<text x="701.3" y="867.4" font-family='"Liberation Sans", Arial, sans-serif' font-size="36.6" text-anchor="start" fill="#000">90°</text>
<rect x="991.7" y="818.1" width="616.1" height="496.5" fill="none" stroke="#000" stroke-width="2.0"/>
<path d="M1027.94 1314.6v-10M1027.94 818.1v10M1172.91 1314.6v-10M1172.91 818.1v10M1317.87 1314.6v-10M1317.87 818.1v10M1462.84 1314.6v-10M1462.84 818.1v10M1607.8 1314.6v-10M1607.8 818.1v10" stroke="#000" stroke-width="2.0" fill="none"/>
<path d="M1100.42 1314.6v-5M1100.42 818.1v5M1245.39 1314.6v-5M1245.39 818.1v5M1390.35 1314.6v-5M1390.35 818.1v5M1535.32 1314.6v-5M1535.32 818.1v5" stroke="#000" stroke-width="2.0" fill="none"/>
<path d="M991.7 1182.2h10M1607.8 1182.2h-10M991.7 1016.7h10M1607.8 1016.7h-10M991.7 851.2h10M1607.8 851.2h-10" stroke="#000" stroke-width="2.0" fill="none"/>
<path d="M991.7 1264.95h5M1607.8 1264.95h-5M991.7 1099.45h5M1607.8 1099.45h-5M991.7 933.95h5M1607.8 933.95h-5" stroke="#000" stroke-width="2.0" fill="none"/>
<text x="980.7" y="1192.2" font-family='"Liberation Sans", Arial, sans-serif' font-size="33" text-anchor="end" fill="#000">1.5</text>
<text x="980.7" y="1026.7" font-family='"Liberation Sans", Arial, sans-serif' font-size="33" text-anchor="end" fill="#000">2.0</text>
<text x="980.7" y="861.2" font-family='"Liberation Sans", Arial, sans-serif' font-size="33" text-anchor="end" fill="#000">2.5</text>
<text x="1027.94" y="1350.8" font-family='"Liberation Sans", Arial, sans-serif' font-size="32.4" text-anchor="middle" fill="#000">1000</text>
<text x="1172.91" y="1350.8" font-family='"Liberation Sans", Arial, sans-serif' font-size="32.4" text-anchor="middle" fill="#000">2000</text>
<text x="1317.87" y="1350.8" font-family='"Liberation Sans", Arial, sans-serif' font-size="32.4" text-anchor="middle" fill="#000">3000</text>
<text x="1462.84" y="1350.8" font-family='"Liberation Sans", Arial, sans-serif' font-size="32.4" text-anchor="middle" fill="#000">4000</text>
<text x="1607.8" y="1350.8" font-family='"Liberation Sans", Arial, sans-serif' font-size="32.4" text-anchor="middle" fill="#000">5000</text>
<text transform="translate(920.5 1065.55) rotate(-90)" font-family='"Liberation Sans", Arial, sans-serif' font-size="42.3" text-anchor="middle">Threshold (mJ/cm<tspan font-size="25" dy="-21">2</tspan><tspan dy="21"> per pulse)</tspan></text>
<text x="1246" y="1411.9" font-family='"Liberation Sans", Arial, sans-serif' font-size="42.5" text-anchor="start" fill="#000">Q</text>
<text x="1278.5" y="1426" font-family='"Liberation Sans", Arial, sans-serif' font-size="25.3" text-anchor="start" fill="#000">loaded</text>
<circle cx="1065.8" cy="864.5" r="12" fill="#00f"/><circle cx="1206.9" cy="1083.5" r="12" fill="#00f"/><circle cx="1340.5" cy="1208.8" r="12" fill="#00f"/><circle cx="1564.5" cy="1271.6" r="12" fill="#00f"/>
<polyline points="1066.18,858.76 1069.81,869.7 1073.43,880.24 1077.06,890.37 1080.68,900.14 1084.3,909.56 1087.93,918.64 1091.55,927.4 1095.18,935.87 1098.8,944.05 1102.42,951.97 1106.05,959.62 1109.67,967.03 1113.3,974.21 1116.92,981.16 1120.54,987.91 1124.17,994.45 1127.79,1000.79 1131.42,1006.96 1135.04,1012.94 1138.67,1018.75 1142.29,1024.41 1145.91,1029.9 1149.54,1035.25 1153.16,1040.45 1156.79,1045.52 1160.41,1050.45 1164.03,1055.26 1167.66,1059.94 1171.28,1064.51 1174.91,1068.96 1178.53,1073.3 1182.15,1077.54 1185.78,1081.68 1189.4,1085.72 1193.03,1089.66 1196.65,1093.51 1200.28,1097.28 1203.9,1100.96 1207.52,1104.56 1211.15,1108.08 1214.77,1111.52 1218.4,1114.89 1222.02,1118.18 1225.64,1121.41 1229.27,1124.56 1232.89,1127.66 1236.52,1130.69 1240.14,1133.65 1243.76,1136.56 1247.39,1139.41 1251.01,1142.21 1254.64,1144.95 1258.26,1147.63 1261.89,1150.27 1265.51,1152.85 1269.13,1155.39 1272.76,1157.88 1276.38,1160.32 1280.01,1162.72 1283.63,1165.08 1287.25,1167.39 1290.88,1169.67 1294.5,1171.9 1298.13,1174.09 1301.75,1176.25 1305.37,1178.37 1309,1180.45 1312.62,1182.5 1316.25,1184.51 1319.87,1186.49 1323.5,1188.44 1327.12,1190.35 1330.74,1192.24 1334.37,1194.09 1337.99,1195.91 1341.62,1197.71 1345.24,1199.48 1348.86,1201.22 1352.49,1202.93 1356.11,1204.62 1359.74,1206.28 1363.36,1207.92 1366.98,1209.53 1370.61,1211.11 1374.23,1212.68 1377.86,1214.22 1381.48,1215.74 1385.11,1217.24 1388.73,1218.71 1392.35,1220.17 1395.98,1221.6 1399.6,1223.02 1403.23,1224.41 1406.85,1225.78 1410.47,1227.14 1414.1,1228.48 1417.72,1229.8 1421.35,1231.1 1424.97,1232.38 1428.59,1233.65 1432.22,1234.9 1435.84,1236.14 1439.47,1237.35 1443.09,1238.56 1446.72,1239.74 1450.34,1240.91 1453.96,1242.07 1457.59,1243.21 1461.21,1244.34 1464.84,1245.45 1468.46,1246.55 1472.08,1247.64 1475.71,1248.71 1479.33,1249.77 1482.96,1250.82 1486.58,1251.86 1490.2,1252.88 1493.83,1253.89 1497.45,1254.89 1501.08,1255.87 1504.7,1256.85 1508.33,1257.81 1511.95,1258.77 1515.57,1259.71 1519.2,1260.64 1522.82,1261.56 1526.45,1262.47 1530.07,1263.37 1533.69,1264.26 1537.32,1265.14 1540.94,1266.01 1544.57,1266.87 1548.19,1267.72 1551.81,1268.57 1555.44,1269.4 1559.06,1270.22 1562.69,1271.04 1565.04,1271.56" fill="none" stroke="#c41212" stroke-width="2"/>
<text x="1012" y="848.6" font-family='Carlito, Calibri, "Liberation Sans", sans-serif' font-size="46" text-anchor="start" fill="#7030a0">30 nm</text>
<text x="1176.6" y="1066.1" font-family='Carlito, Calibri, "Liberation Sans", sans-serif' font-size="46" text-anchor="start" fill="#7030a0">45 nm</text>
<text x="1330.6" y="1188.2" font-family='Carlito, Calibri, "Liberation Sans", sans-serif' font-size="46" text-anchor="start" fill="#7030a0">55 nm</text>
<text x="1465" y="1238.3" font-family='Carlito, Calibri, "Liberation Sans", sans-serif' font-size="46" text-anchor="start" fill="#7030a0">120 nm</text>
<rect x="1212.5" y="834.2" width="371.1" height="104.1" fill="#fff" stroke="#555" stroke-width="1.2"/>
<circle cx="1257.3" cy="858.6" r="12.1" fill="#00f"/>
<text x="1307.5" y="871.1" font-family='"Liberation Sans", Arial, sans-serif' font-size="36.4" text-anchor="start" fill="#000">Experiment</text>
<path d="M1216.2 903.4H1299.1" stroke="#c41212" stroke-width="2.2"/>
<text x="1307.5" y="915.9" font-family='"Liberation Sans", Arial, sans-serif' font-size="36.4" text-anchor="start" fill="#000">Fit: P</text>
<text x="1392.5" y="927.6" font-family='"Liberation Sans", Arial, sans-serif' font-size="20" text-anchor="start" fill="#000">th</text>
<text x="1412" y="915.9" font-family='"Liberation Sans", Arial, sans-serif' font-size="36" text-anchor="start" fill="#000" xml:space="preserve"> = B/Q + F</text>
</svg>
</body></html>
